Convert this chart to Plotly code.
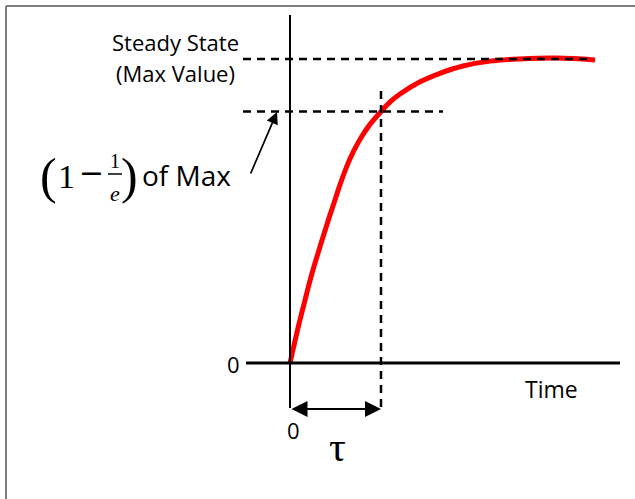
import plotly.graph_objects as go

# ---- data (time in units of tau, response as fraction of max) ----
time_pts = [0.000, 0.091, 0.165, 0.238, 0.330, 0.410, 0.476, 0.549, 0.623, 0.696, 0.788,
            0.879, 1.000, 1.112, 1.209, 1.429, 1.648, 1.901, 2.198, 2.527, 2.931, 3.352]
resp_pts = [0.000, 0.119, 0.207, 0.291, 0.383, 0.460, 0.520, 0.586, 0.646, 0.695, 0.745,
            0.785, 0.827, 0.862, 0.885, 0.925, 0.953, 0.977, 0.993, 1.000, 1.003, 0.997]
tau = 1.0
steady_value = 1.0
tau_level = 0.827
zero_label = "0"

W, H = 635, 499
X0PX, XSCALE = 290.0, 91.0   # pixel of t=0, px per tau
Y0PX, YSCALE = 363.0, 304.0  # pixel of y=0, px per max


def tx(px):
    return (px - X0PX) / XSCALE


def ty(py):
    return (Y0PX - py) / YSCALE


fig = go.Figure()
fig.add_trace(go.Scatter(x=time_pts, y=resp_pts, mode="lines",
                         line=dict(color="#ff0000", width=5, shape="spline", smoothing=1.0),
                         hoverinfo="skip", showlegend=False))

shapes = []
# axes
shapes.append(dict(type="line", x0=0, x1=0, y0=ty(15), y1=ty(408), line=dict(color="black", width=2)))
shapes.append(dict(type="line", x0=tx(246), x1=tx(620), y0=0, y1=0, line=dict(color="black", width=3)))
dash = "8px,6px"
shapes.append(dict(type="line", x0=tx(243), x1=tx(593), y0=steady_value, y1=steady_value,
                   line=dict(color="black", width=2.5, dash=dash)))
shapes.append(dict(type="line", x0=tx(243), x1=tx(443), y0=tau_level, y1=tau_level,
                   line=dict(color="black", width=2.5, dash=dash)))
shapes.append(dict(type="line", x0=tau, x1=tau, y0=ty(91), y1=ty(408),
                   line=dict(color="black", width=2.5, dash=dash)))
# fraction bar
shapes.append(dict(type="line", x0=tx(108), x1=tx(122), y0=ty(174), y1=ty(174),
                   line=dict(color="black", width=1.5)))
# frame (left and top)
shapes.append(dict(type="line", xref="paper", yref="paper", x0=6 / W, x1=6 / W, y0=0, y1=1 - 6 / H,
                   line=dict(color="#808080", width=2)))
shapes.append(dict(type="line", xref="paper", yref="paper", x0=6 / W, x1=1, y0=1 - 6 / H, y1=1 - 6 / H,
                   line=dict(color="#808080", width=2)))

sans = "Open Sans"
serif = "Liberation Serif"
ann = []


def txt(text, px, py, size, family=sans, xanchor="center"):
    ann.append(dict(text=text, x=tx(px), y=ty(py), xref="x", yref="y", showarrow=False,
                    xanchor=xanchor, yanchor="middle", font=dict(family=family, size=size, color="black")))


txt("Steady State", 175, 42, 22)
txt("(Max Value)", 175, 73, 22)
txt(zero_label, 233, 364, 22)
txt(zero_label, 293, 430, 22)
txt("Time", 551, 389, 23)
txt("τ", 337, 447, 42, family=serif)
txt("(", 48, 176, 50, family=serif)
txt("1", 66, 176, 34, family=serif)
txt("−", 91, 172, 40, family=sans)
txt("1", 115, 161, 20, family=serif)
txt("<i>e</i>", 115, 193, 22, family=serif)
txt(")", 129, 176, 50, family=serif)
txt("of Max", 186, 175, 28)

# double arrow tau
ann.append(dict(text="", x=tau, y=ty(409), ax=0, ay=ty(409), xref="x", yref="y", axref="x", ayref="y",
                showarrow=True, arrowside="end+start", arrowhead=2, arrowsize=1.6, arrowwidth=2,
                arrowcolor="black"))
# label arrow
ann.append(dict(text="", x=tx(277), y=ty(112), ax=-27, ay=63, xref="x", yref="y",
                showarrow=True, arrowhead=2, arrowsize=1.4, arrowwidth=1.7, arrowcolor="black"))

fig.update_layout(
    width=W, height=H, autosize=False,
    margin=dict(l=0, r=0, t=0, b=0),
    paper_bgcolor="white", plot_bgcolor="white",
    xaxis=dict(range=[tx(0), tx(W)], visible=False, fixedrange=True),
    yaxis=dict(range=[ty(H), ty(0)], visible=False, fixedrange=True),
    shapes=shapes, annotations=ann, showlegend=False,
)

fig.write_html("out.html", config={"displayModeBar": False},
               post_script="document.body.style.margin='0';document.body.style.padding='0';")
